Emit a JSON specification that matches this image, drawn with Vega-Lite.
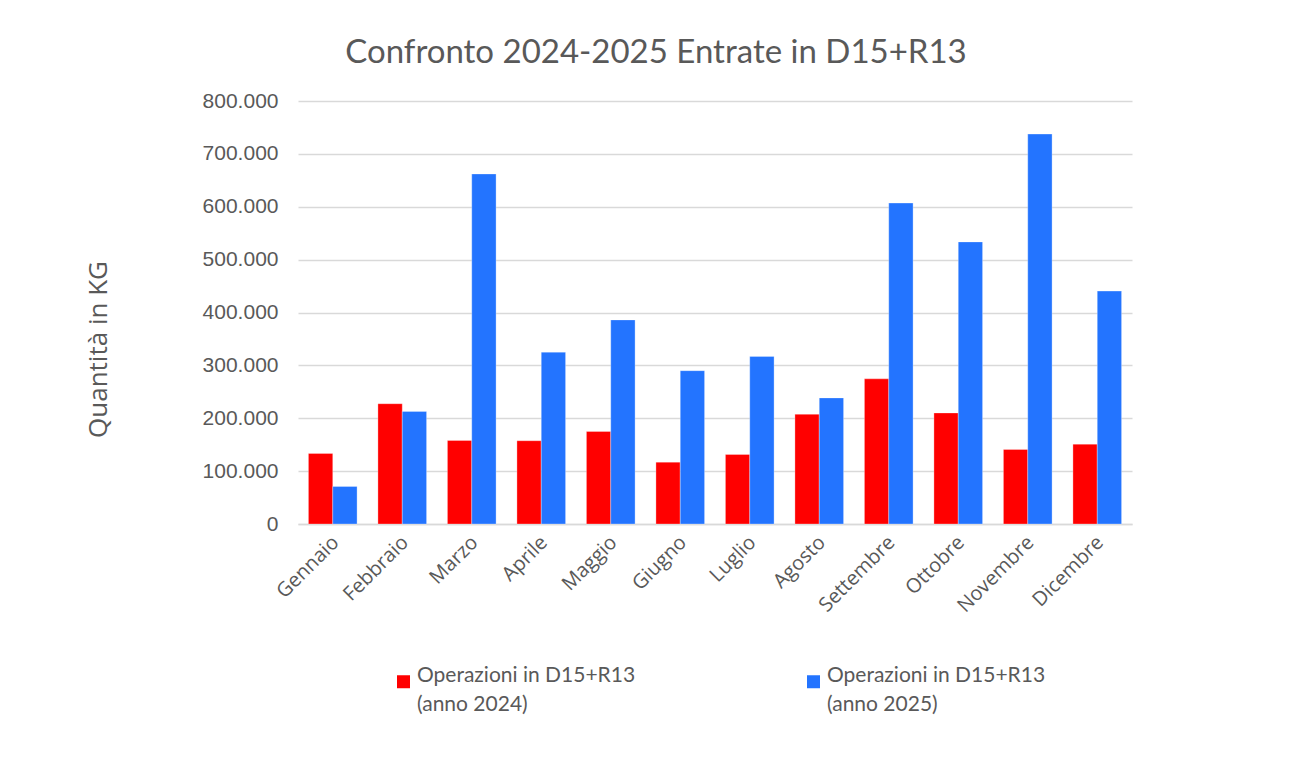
{
  "$schema": "https://vega.github.io/schema/vega-lite/v6.json",
  "autosize": "none",
  "width": 834,
  "height": 423,
  "padding": {"left": 298, "top": 101, "right": 175, "bottom": 253},
  "background": "white",
  "title": {
    "text": "Confronto 2024-2025 Entrate in D15+R13",
    "font": "Lato",
    "fontSize": 33,
    "fontWeight": "normal",
    "color": "#595959",
    "anchor": "middle",
    "dx": -59,
    "dy": 34,
    "baseline": "alphabetic",
    "offset": 28
  },
  "data": {
    "values": [
      {"mese": "Gennaio", "serie": "2024", "kg": 133500},
      {"mese": "Gennaio", "serie": "2025", "kg": 71000},
      {"mese": "Febbraio", "serie": "2024", "kg": 227500},
      {"mese": "Febbraio", "serie": "2025", "kg": 213000},
      {"mese": "Marzo", "serie": "2024", "kg": 158000},
      {"mese": "Marzo", "serie": "2025", "kg": 662000},
      {"mese": "Aprile", "serie": "2024", "kg": 157500},
      {"mese": "Aprile", "serie": "2025", "kg": 325000},
      {"mese": "Maggio", "serie": "2024", "kg": 175000},
      {"mese": "Maggio", "serie": "2025", "kg": 386000},
      {"mese": "Giugno", "serie": "2024", "kg": 117000},
      {"mese": "Giugno", "serie": "2025", "kg": 290000},
      {"mese": "Luglio", "serie": "2024", "kg": 131500},
      {"mese": "Luglio", "serie": "2025", "kg": 317000},
      {"mese": "Agosto", "serie": "2024", "kg": 207500},
      {"mese": "Agosto", "serie": "2025", "kg": 238500},
      {"mese": "Settembre", "serie": "2024", "kg": 274500},
      {"mese": "Settembre", "serie": "2025", "kg": 607000},
      {"mese": "Ottobre", "serie": "2024", "kg": 210000},
      {"mese": "Ottobre", "serie": "2025", "kg": 533500},
      {"mese": "Novembre", "serie": "2024", "kg": 141000},
      {"mese": "Novembre", "serie": "2025", "kg": 737500},
      {"mese": "Dicembre", "serie": "2024", "kg": 151000},
      {"mese": "Dicembre", "serie": "2025", "kg": 440500}
    ]
  },
  "mark": {"type": "bar", "stroke": "#ffffff", "strokeWidth": 0.6, "strokeOpacity": 0.5},
  "encoding": {
    "x": {
      "field": "mese",
      "type": "nominal",
      "sort": null,
      "scale": {"paddingInner": 0.3, "paddingOuter": 0.15},
      "axis": {
        "title": null,
        "labelAngle": -45,
        "labelAlign": "right",
        "labelBaseline": "top",
        "labelFont": "Open Sans",
        "labelFontSize": 20,
        "labelColor": "#595959",
        "labelPadding": 8,
        "labelOffset": -4,
        "ticks": false,
        "domainColor": "#d9d9d9",
        "domainWidth": 1.5
      }
    },
    "xOffset": {"field": "serie", "type": "nominal"},
    "y": {
      "field": "kg",
      "type": "quantitative",
      "scale": {"domain": [0, 800000]},
      "axis": {
        "title": "Quantità in KG",
        "titleFont": "Open Sans",
        "titleFontSize": 26,
        "titleFontWeight": "normal",
        "titleColor": "#595959",
        "titleAngle": -90,
        "titleX": -200,
        "titleY": 248,
        "titleAlign": "center",
        "titleBaseline": "middle",
        "values": [0, 100000, 200000, 300000, 400000, 500000, 600000, 700000, 800000],
        "format": ",d",
        "labelFont": "Liberation Sans",
        "labelFontSize": 21,
        "labelColor": "#595959",
        "labelPadding": 20,
        "ticks": false,
        "domain": false,
        "gridColor": "#d9d9d9",
        "gridWidth": 1.5
      }
    },
    "color": {
      "field": "serie",
      "type": "nominal",
      "scale": {"domain": ["2024", "2025"], "range": ["#ff0000", "#2374ff"]},
      "legend": {
        "title": null,
        "orient": "none",
        "legendX": 95,
        "legendY": 570,
        "direction": "horizontal",
        "columns": 2,
        "columnPadding": 167,
        "symbolType": "square",
        "symbolSize": 169,
        "symbolStrokeWidth": 0,
        "labelFont": "Lato",
        "labelFontSize": 21,
        "labelColor": "#595959",
        "labelLimit": 400,
        "labelOffset": 3,
        "labelBaseline": "alphabetic",
        "labelExpr": "['Operazioni in D15+R13', '(anno ' + datum.label + ')']"
      }
    }
  },
  "config": {
    "locale": {
      "number": {"decimal": ",", "thousands": ".", "grouping": [3], "currency": ["", " €"]}
    },
    "style": {"guide-label": {"lineHeight": 29}},
    "view": {"stroke": null}
  }
}
